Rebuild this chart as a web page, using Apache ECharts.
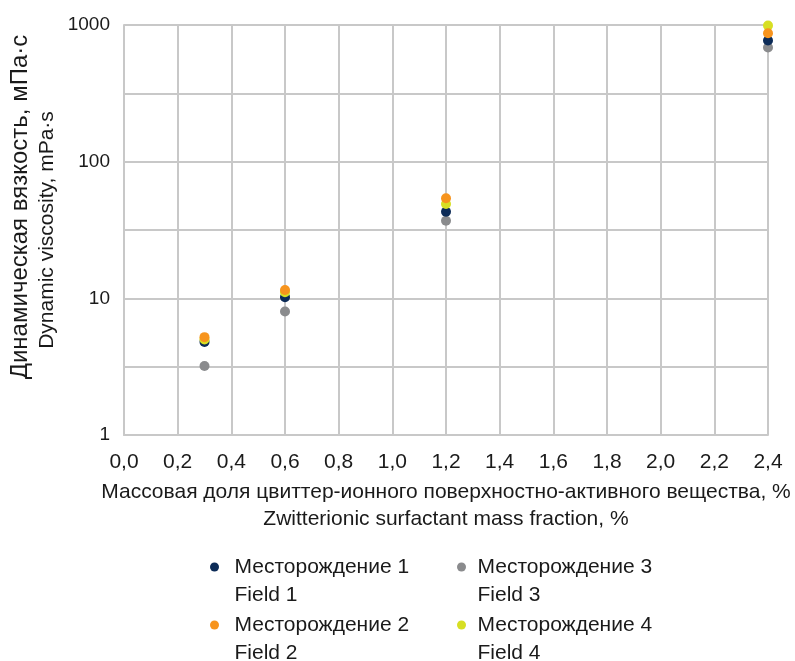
<!DOCTYPE html>
<html>
<head>
<meta charset="utf-8">
<script src="https://cdn.jsdelivr.net/npm/echarts@6/dist/echarts.min.js"></script>
<style>
  html, body { margin: 0; padding: 0; background: #fff; }
  #chart { width: 795px; height: 661px; }
</style>
</head>
<body>
<div id="chart"></div>
<script>
  // mass fraction, %
  const xValues = [0.3, 0.6, 1.2, 2.4];
  // dynamic viscosity, mPa·s
  const field1 = [4.8, 10.2, 43, 770];
  const field2 = [5.2, 11.5, 54, 870];
  const field3 = [3.2, 8.0, 37, 685];
  const field4 = [5.0, 11.1, 49, 990];

  const seriesNames = [
    'Месторождение 1\nField 1',
    'Месторождение 2\nField 2',
    'Месторождение 3\nField 3',
    'Месторождение 4\nField 4'
  ];
  const seriesColors = ['#0c2b57', '#f7941d', '#8a8b8d', '#d7df23'];
  const seriesZ = [2, 4, 1, 3];
  const seriesValues = [field1, field2, field3, field4];

  const font = '"Liberation Sans", sans-serif';
  const gridColor = '#c8c8c8';
  const textColor = '#1a1a1a';

  const chart = echarts.init(document.getElementById('chart'));

  const series = seriesValues.map((vals, i) => ({
    name: seriesNames[i],
    type: 'scatter',
    symbol: 'circle',
    symbolSize: 10,
    z: seriesZ[i],
    itemStyle: {color: seriesColors[i], opacity: 1},
    data: vals.map((v, j) => [xValues[j], v]),
    animation: false
  }));

  // one legend per item; a blank first line keeps the dot level with "Месторождение"
  const legendLeft = [210, 210, 457, 457];
  const legendWidth = [30, 30, 22, 22];
  const legendTop = [525, 583, 525, 583];
  const legends = seriesNames.map((name, i) => ({
    data: [name],
    left: legendLeft[i],
    top: legendTop[i],
    padding: 0,
    icon: 'circle',
    itemWidth: legendWidth[i],
    itemHeight: 9,
    selectedMode: false,
    formatter: n => ' \n' + n,
    textStyle: {
      fontFamily: font,
      fontSize: 21,
      color: textColor,
      lineHeight: 28
    }
  }));

  const option = {
    backgroundColor: '#fff',
    animation: false,
    grid: {left: 124, right: 27, top: 25, bottom: 226, containLabel: false, outerBoundsMode: 'none'},
    legend: legends,
    xAxis: {
      type: 'value',
      min: 0,
      max: 2.4,
      interval: 0.2,
      axisLine: {show: true, lineStyle: {color: gridColor, width: 2}},
      axisTick: {show: false},
      splitLine: {show: true, lineStyle: {color: gridColor, width: 2}},
      axisLabel: {
        color: textColor,
        fontFamily: font,
        fontSize: 21,
        margin: 17,
        formatter: v => v.toFixed(1).replace('.', ',')
      },
      name: 'Массовая доля цвиттер-ионного поверхностно-активного вещества, %\nZwitterionic surfactant mass fraction, %',
      nameLocation: 'middle',
      nameGap: 44,
      nameTextStyle: {
        color: textColor,
        fontFamily: font,
        fontSize: 21,
        lineHeight: 27
      }
    },
    yAxis: [{
      type: 'log',
      logBase: 10,
      min: 1,
      max: 1000,
      axisLine: {show: true, lineStyle: {color: gridColor, width: 2}},
      axisTick: {show: false},
      splitLine: {show: true, lineStyle: {color: gridColor, width: 2}},
      axisLabel: {
        color: textColor,
        fontFamily: font,
        fontSize: 19,
        margin: 14,
        formatter: v => String(v)
      },
      name: '{a|Динамическая вязкость, мПа·с}\n{b|Dynamic viscosity, mPa·s}',
      nameLocation: 'middle',
      nameRotate: 90,
      nameGap: 63,
      nameMoveOverlap: false,
      nameTextStyle: {
        color: textColor,
        fontFamily: font,
        lineHeight: 27,
        rich: {
          a: {fontFamily: font, fontSize: 24, lineHeight: 27, color: textColor, padding: [0, 0, 0, 46]},
          b: {fontFamily: font, fontSize: 21, lineHeight: 27, color: textColor}
        }
      }
    }, {
      // half-decade gridlines
      type: 'value',
      position: 'left',
      min: 0,
      max: 6,
      interval: 1,
      axisLine: {show: false},
      axisTick: {show: false},
      axisLabel: {show: false},
      splitLine: {show: true, lineStyle: {color: gridColor, width: 2}}
    }],
    series: series
  };

  chart.setOption(option);
</script>
</body>
</html>
